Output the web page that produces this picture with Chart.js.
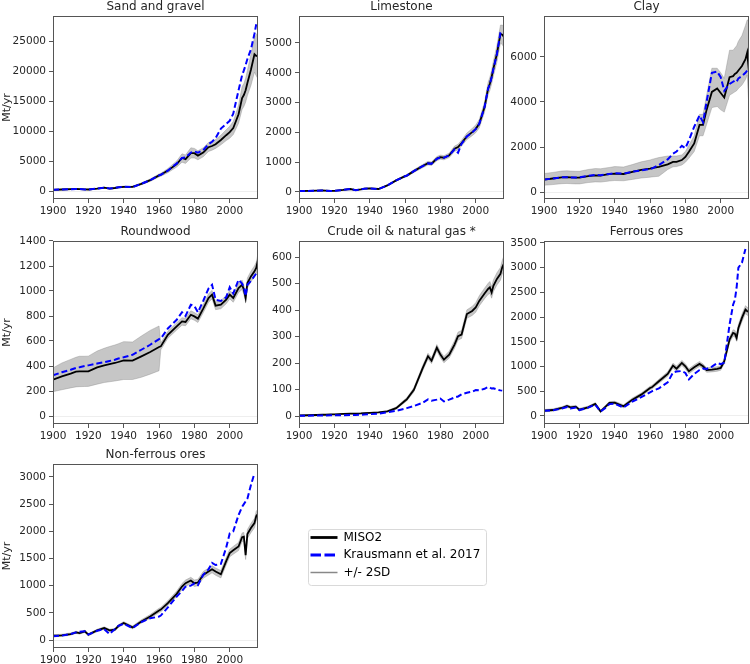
<!DOCTYPE html>
<html>
<head>
<meta charset="utf-8">
<script src="https://cdn.jsdelivr.net/npm/chart.js@4.4.1/dist/chart.umd.min.js"></script>
<style>
body { margin: 0; background: #fff; width: 750px; height: 664px; position: relative; overflow: hidden; }
canvas { position: absolute; }
</style>
</head>
<body>
<canvas id="sand" width="259" height="217" style="left:0px;top:0px"></canvas>
<canvas id="lime" width="259" height="217" style="left:246px;top:0px"></canvas>
<canvas id="clay" width="259" height="217" style="left:491px;top:0px"></canvas>
<canvas id="wood" width="259" height="217" style="left:0px;top:225px"></canvas>
<canvas id="oil" width="259" height="217" style="left:246px;top:225px"></canvas>
<canvas id="fe" width="259" height="217" style="left:491px;top:225px"></canvas>
<canvas id="nonfe" width="259" height="218" style="left:0px;top:448px"></canvas>
<canvas id="legend" width="185" height="62" style="left:305px;top:526px"></canvas>
<script>
var years = [1900,1905,1910,1913,1915,1918,1920, 1925,1929,1932,1935,1937,1940,1945,
             1950,1955,1960,1961,1965,1970,1973, 1975,1978,1980,1982,1985,1988,1990,
             1992,1995,1998,2000,2002,2005,2007, 2008,2009,2010,2012,2014,2015,2016];
var xTicks = [1900, 1920, 1940, 1960, 1980, 2000];

// Sand and gravel
var sandMiso = [200,250,300,330,320,260,250, 400,550,400,500,620,700,700, 1200,1800,2600,2700,3400,4500,5500, 5300,6300,6300,5900,6400,7300,7500, 7800,8500,9300,9800,10500,12800,15500, 16000,16800,18000,20200,22800,22500,22600];
var sandLo = [120,170,220,250,240,190,180, 320,460,320,410,520,600,600, 1050,1600,2350,2450,3050,4000,4800, 4600,5500,5500,5200,5700,6600,6800, 7100,7700,8400,8800,9400,11300,13600, 14100,14800,15900,17600,19800,19200,18700];
var sandHi = [280,330,380,410,400,330,320, 480,640,480,590,720,800,800, 1350,2000,2850,2950,3750,5000,6200, 6000,7200,7100,6700,7200,8100,8300, 8600,9300,10200,10800,11600,14300,17400, 17900,18800,20100,22800,25600,26000,26500];
var sandKraus = [200,250,300,330,320,260,250, 400,550,420,500,620,700,650, 1200,1800,2600,2700,3400,4600,5500, 5600,6400,6600,6400,6800,7800,8200, 8800,10400,11200,11700,12900,16800,19300, 20100,21000,22000,23600,26200,27800,null];
var sandTicks = [0, 5000, 10000, 15000, 20000, 25000];

// Limestone
var limeMiso = [30,35,45,50,45,35,40, 70,100,60,85,110,120,100, 220,390,530,550,700,870,970, 950,1120,1170,1150,1230,1450,1510, 1640,1870,2010,2120,2290,2850,3470, 3630,3860,4140,4640,5310,5280,5200];
var limeLo = [20,25,35,40,35,25,30, 60,88,50,75,98,108,88, 200,365,495,515,655,815,910, 890,1050,1100,1080,1155,1360,1420, 1540,1760,1890,1990,2150,2680,3260, 3410,3630,3890,4360,5000,4950,4850];
var limeHi = [40,45,55,60,55,45,50, 80,112,70,95,122,132,112, 240,415,565,585,745,925,1030, 1010,1190,1240,1220,1305,1540,1600, 1740,1980,2130,2250,2430,3020,3680, 3850,4090,4390,4920,5600,5600,5550];
var limeKraus = [30,35,45,50,45,35,40, 70,100,60,85,110,120,100, 220,390,530,550,700,870,960, 950,1110,1160,1150,1230,1430,1320, 1620,1860,2000,2110,2290,2850,3470, 3620,3850,4130,4630,5350,5400,null];
var limeTicks = [0, 1000, 2000, 3000, 4000, 5000];

// Clay
var clayMiso = [550,600,650,660,650,640,640, 710,740,730,770,790,820,800, 890,980,1040,1060,1120,1230,1340, 1340,1420,1560,1790,2160,2980,2980, 3650,4450,4600,4400,4200,5100,5150, 5250,5300,5400,5600,5900,6200,5300];
var clayLo = [300,330,370,380,370,360,360, 420,450,440,470,490,510,500, 560,620,660,670,700,1000,1120, 1130,1200,1320,1500,1800,2500,2500, 3000,3750,3800,3650,3550,4300,4400, 4450,4500,4600,4750,5000,5200,3700];
var clayHi = [820,870,930,940,930,920,920, 1000,1040,1030,1070,1090,1130,1110, 1220,1340,1420,1450,1530,1600,1600, 1600,1650,1800,2080,2500,3450,3450, 4300,5500,5500,5300,5050,6300,6300, 6400,6500,6700,6950,7400,7650,7600];
var clayKraus = [550,600,650,660,650,640,650, 720,760,740,780,800,830,820, 900,960,1020,1040,1200,1450,1700, 1800,2050,1950,2300,2900,3400,3100, 4000,5300,5350,5100,4500,4800,4900, 4950,4900,5050,5150,5300,5400,null];
var clayTicks = [0, 2000, 4000, 6000];

// Roundwood
var woodMiso = [290,317,339,355,357,357,357, 389,405,415,424,432,445,443, 477,512,552,557,650,717,757, 752,810,797,779,859,944,971, 883,891,931,971,944,1024,1050, 1010,944,1064,1117,1157,1184,1250];
var woodLo = [195,210,225,233,235,236,237, 255,268,274,280,285,292,292, 310,335,362,530,622,688,727, 722,778,766,748,826,910,937, 851,858,898,937,910,988,1012, 973,908,1024,1075,1113,1138,1200];
var woodHi = [385,424,453,470,478,478,479, 520,542,556,568,578,595,592, 640,685,720,585,678,746,787, 782,842,828,810,892,978,1005, 915,924,964,1005,978,1060,1088, 1047,980,1104,1159,1201,1230,1300];
var woodKraus = [325,350,370,385,390,400,405, 420,430,440,450,460,470,490, 530,570,615,620,700,770,830, 800,890,880,830,920,1020,1050, 930,920,950,1030,980,1090,1060, 1030,960,1050,1080,1120,1140,null];
var woodTicks = [0, 200, 400, 600, 800, 1000, 1200, 1400];

// Crude oil & natural gas
var oilMiso = [2,3,4,5,5,6,6, 8,9,9,10,11,12,14, 18,30,58,63,99,181,226, 209,258,232,213,232,270,302, 308,385,397,410,435,463,480, 486,467,492,518,537,562,577];
var oilLo = [1,2,3,4,4,5,5, 7,8,8,9,10,11,13, 15,26,52,57,91,171,215, 198,246,220,201,219,256,287, 293,369,380,392,416,443,459, 464,445,470,495,513,536,549];
var oilHi = [3,4,5,6,6,7,7, 9,10,10,11,12,13,15, 21,34,64,69,107,191,237, 220,270,244,225,245,284,317, 323,401,414,428,454,483,501, 508,489,514,541,561,588,605];
var oilKraus = [1,1,2,2,2,3,3, 3,4,4,5,6,7,9, 14,20,28,30,38,50,63, 58,62,66,55,62,70,74, 82,88,92,98,97,103,110, 108,104,105,100,97,96,null];
var oilTicks = [0, 100, 200, 300, 400, 500, 600];

// Ferrous ores
var feMiso = [108,121,162,202,175,189,128, 175,243,94,196,263,270,196, 331,432,567,580,702,850,1019, 958,1073,1005,904,985,1053,1005, 931,938,951,972,1107,1545,1680, 1667,1579,1781,1984,2152,2119,2105];
var feLo = [85,97,137,177,150,164,103, 150,216,67,168,235,241,166, 298,399,532,545,662,805,969, 906,1021,953,854,935,1003,957, 885,892,905,926,1057,1485,1615, 1600,1510,1710,1906,2072,2039,2025];
var feHi = [131,145,187,227,200,214,153, 200,270,121,224,291,299,226, 364,465,602,615,742,895,1069, 1010,1125,1057,954,1035,1103,1053, 977,984,997,1018,1157,1605,1745, 1734,1648,1852,2062,2232,2199,2185];
var feKraus = [105,115,150,180,150,170,120, 170,230,90,170,240,250,170, 290,380,480,500,560,680,880, 900,910,870,740,850,930,960, 950,1000,1070,1050,1080,1850,2250, 2350,2600,3000,3100,3380,null,null];
var feTicks = [0, 500, 1000, 1500, 2000, 2500, 3000, 3500];

// Non-ferrous ores
var nfMiso = [79,86,110,141,128,159,98, 177,220,177,190,257,312,232, 342,434,544,560,678,850,984, 1045,1094,1045,1057,1198,1259,1302, 1259,1210,1450,1600,1650,1720,1890, 1900,1560,1950,2060,2150,2280,2320];
var nfLo = [59,66,90,121,108,139,78, 155,198,155,166,232,286,206, 312,400,504,520,633,798,928, 987,1034,985,997,1136,1195,1236, 1192,1142,1380,1530,1578,1645,1810, 1820,1480,1868,1975,2063,2192,2230];
var nfHi = [99,106,130,161,148,179,118, 199,242,199,214,282,338,258, 372,468,584,600,723,902,1040, 1103,1154,1105,1117,1260,1323,1368, 1326,1278,1520,1670,1722,1795,1970, 1980,1640,2032,2145,2237,2368,2410];
var nfKraus = [70,80,110,140,150,160,100, 170,200,110,200,260,300,220, 330,400,430,450,600,800,900, 980,1000,1040,1010,1200,1300,1420, 1380,1400,1700,1960,2000,2300,2450, 2500,2550,2600,2850,3070,null,null];
var nfTicks = [0, 500, 1000, 1500, 2000, 2500, 3000];

var FONT = "'DejaVu Sans', sans-serif";
var TEXT = '#262626';
var AXIS = '#555555';
var BAND = 'rgba(128,128,128,0.45)';

function pts(arr) {
    return years.map(function (y, i) { return { x: y, y: arr[i] }; });
}

// draws the four spines like matplotlib
var framePlugin = {
    id: 'frame',
    afterDraw: function (chart) {
        var a = chart.chartArea, ctx = chart.ctx;
        ctx.save();
        ctx.strokeStyle = AXIS;
        ctx.lineWidth = 1;
        ctx.strokeRect(Math.round(a.left) + 0.5, Math.round(a.top) + 0.5,
                       Math.round(a.right - a.left) - 1, Math.round(a.bottom - a.top) - 1);
        ctx.restore();
    }
};

function panel(id, title, miso, lo, hi, kraus, ticks, yMin, yMax, showLabel) {
    new Chart(document.getElementById(id), {
        type: 'line',
        data: {
            datasets: [
                { label: 'Krausmann et al. 2017', data: pts(kraus), borderColor: '#0000ff', borderWidth: 2,
                  borderDash: [6, 3], pointRadius: 0, fill: false },
                { label: 'MISO2', data: pts(miso), borderColor: '#000000', borderWidth: 1.8,
                  pointRadius: 0, fill: false },
                { label: 'lo', data: pts(lo), borderColor: BAND, borderWidth: 0.8, pointRadius: 0, fill: false },
                { label: 'hi', data: pts(hi), borderColor: BAND, borderWidth: 0.8, pointRadius: 0,
                  fill: '-1', backgroundColor: BAND }
            ]
        },
        options: {
            responsive: false,
            animation: false,
            layout: { padding: { right: 1 } },
            plugins: {
                legend: { display: false },
                tooltip: { enabled: false },
                title: { display: true, text: title, fullSize: false, color: TEXT,
                         font: { family: FONT, size: 12, weight: 'normal' },
                         padding: { top: 0, bottom: 1.6 } }
            },
            scales: {
                x: {
                    type: 'linear', min: 1900, max: 2016,
                    afterBuildTicks: function (s) { s.ticks = xTicks.map(function (v) { return { value: v }; }); },
                    afterFit: function (s) { s.height = 18; },
                    ticks: { color: TEXT, font: { family: FONT, size: 10.5 }, padding: 2, maxRotation: 0,
                             autoSkip: false, callback: function (v) { return String(v); } },
                    grid: { drawOnChartArea: false, tickLength: 4, tickColor: AXIS, color: AXIS },
                    border: { display: false }
                },
                y: {
                    type: 'linear', min: yMin, max: yMax,
                    afterBuildTicks: function (s) { s.ticks = ticks.map(function (v) { return { value: v }; }); },
                    afterFit: function (s) { s.width = 53; },
                    ticks: { color: TEXT, font: { family: FONT, size: 10.5 }, padding: 3,
                             callback: function (v) { return String(v); } },
                    grid: { tickLength: 4, tickColor: AXIS,
                            color: function (c) { return c.tick && c.tick.value === 0 ? '#eeeeee' : 'rgba(0,0,0,0)'; } },
                    border: { display: false },
                    title: { display: showLabel, text: 'Mt/yr', color: TEXT, font: { family: FONT, size: 11 },
                             padding: { top: 1, bottom: 0 } }
                }
            }
        },
        plugins: [framePlugin]
    });
}

panel('sand', 'Sand and gravel', sandMiso, sandLo, sandHi, sandKraus, sandTicks, -1333, 29167, true);
panel('lime', 'Limestone', limeMiso, limeLo, limeHi, limeKraus, limeTicks, -235, 5906, false);
panel('clay', 'Clay', clayMiso, clayLo, clayHi, clayKraus, clayTicks, -311, 7822, false);
panel('wood', 'Roundwood', woodMiso, woodLo, woodHi, woodKraus, woodTicks, -64, 1400, true);
panel('oil', 'Crude oil & natural gas *', oilMiso, oilLo, oilHi, oilKraus, oilTicks, -30, 661, false);
panel('fe', 'Ferrous ores', feMiso, feLo, feHi, feKraus, feTicks, -162, 3540, false);
panel('nonfe', 'Non-ferrous ores', nfMiso, nfLo, nfHi, nfKraus, nfTicks, -147, 3238, true);

// legend box in the empty cell
var legendFrame = {
    id: 'legendFrame',
    afterDraw: function (chart) {
        var ctx = chart.ctx;
        ctx.save();
        ctx.strokeStyle = '#d9d9d9';
        ctx.lineWidth = 1;
        ctx.beginPath();
        ctx.roundRect(3.5, 3.5, 178, 56, 3);
        ctx.stroke();
        ctx.restore();
    }
};

new Chart(document.getElementById('legend'), {
    type: 'line',
    data: {
        datasets: [
            { label: 'MISO2', data: [], borderColor: '#000000', borderWidth: 2.8 },
            { label: 'Krausmann et al. 2017', data: [], borderColor: '#0000ff', borderWidth: 2.8, borderDash: [10.5, 3.5] },
            { label: '+/- 2SD', data: [], borderColor: '#888888', borderWidth: 1.5 }
        ]
    },
    options: {
        responsive: false,
        animation: false,
        layout: { padding: 0 },
        scales: { x: { display: false }, y: { display: false } },
        plugins: {
            tooltip: { enabled: false },
            legend: {
                position: 'left', align: 'start', maxWidth: 185,
                labels: {
                    usePointStyle: true, pointStyleWidth: 27, boxHeight: 12, padding: 5.5,
                    color: TEXT, font: { family: FONT, size: 12 },
                    generateLabels: function (chart) {
                        return chart.data.datasets.map(function (ds, i) {
                            return { text: ds.label, strokeStyle: ds.borderColor, fillStyle: ds.borderColor,
                                     lineWidth: ds.borderWidth, lineDash: ds.borderDash || [],
                                     pointStyle: 'line', hidden: false, datasetIndex: i };
                        });
                    }
                }
            }
        }
    },
    plugins: [legendFrame]
});
</script>
</body>
</html>
